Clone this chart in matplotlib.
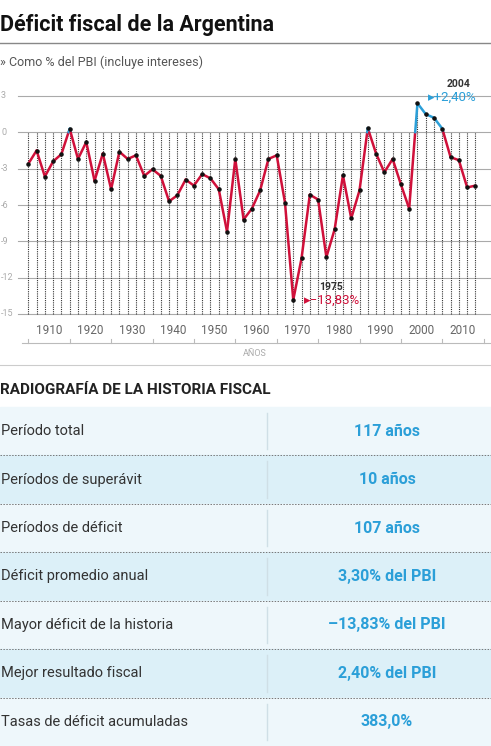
import matplotlib
matplotlib.use("Agg")
import matplotlib.pyplot as plt
import numpy as np

plt.rcParams['font.family'] = ['Roboto', 'DejaVu Sans']

years = list(range(1905, 2014, 2))
values = [-2.6, -1.5, -3.65, -2.4, -1.8, 0.3, -2.2, -0.8, -4.0, -1.75, -4.7, -1.6, -2.2, -1.9,
          -3.6, -3.05, -3.6, -5.7, -5.2, -3.9, -4.4, -3.45, -3.8, -4.7, -8.2, -2.2, -7.2,
          -6.3, -4.8, -2.2, -1.9, -5.8, -13.83, -10.4, -5.15, -5.55, -10.3, -8.0, -3.55, -7.1,
          -4.8, 0.35, -1.75, -3.3, -2.2, -4.3, -6.3, 2.4, 1.5, 1.2, 0.3, -2.05, -2.3, -4.55, -4.4]
ytick_vals = [3, 0, -3, -6, -9, -12, -15]
xtick_labels = [1910, 1920, 1930, 1940, 1950, 1960, 1970, 1980, 1990, 2000, 2010]
rows = ["Período total", "Períodos de superávit", "Períodos de déficit", "Déficit promedio anual",
        "Mayor déficit de la historia", "Mejor resultado fiscal", "Tasas de déficit acumuladas"]
row_values = ["117 años", "10 años", "107 años", "3,30% del PBI", "–13,83% del PBI",
              "2,40% del PBI", "383,0%"]

W, H = 491, 746
RED = '#d0103a'
BLUE = '#2b9fd8'
fig = plt.figure(figsize=(W/100, H/100), dpi=100)

bg = fig.add_axes([0, 0, 1, 1])
bg.set_xlim(0, W); bg.set_ylim(H, 0); bg.axis('off')

bg.text(0, 25, "Déficit fiscal de la Argentina", fontsize=15.5, fontweight='bold', va='center', ha='left', color='#111')
bg.plot([0, W], [43, 43], color='#888', lw=1)
bg.text(0, 62, "» Como % del PBI (incluye intereses)", fontsize=9, va='center', color='#555')
bg.plot([0, W], [365, 365], color='#ccc', lw=0.8)
bg.text(255, 354, "AÑOS", fontsize=6.5, color='#aaa', ha='center', va='center')
bg.text(0, 390, "RADIOGRAFÍA DE LA HISTORIA FISCAL", fontsize=11, fontweight='bold', va='center', color='#222')

top = 407
rh = (H - top) / 7
for i, (lab, val) in enumerate(zip(rows, row_values)):
    y0 = top + i * rh
    col = '#eef7fb' if i % 2 == 0 else '#dcf0f8'
    bg.add_patch(plt.Rectangle((0, y0), W, rh, color=col, zorder=0))
    if i > 0:
        bg.plot([0, W], [y0, y0], color='#777', lw=0.7, ls=(0, (1.5, 1.5)))
    bg.plot([267, 267], [y0 + 6, y0 + rh - 6], color='#cfdfe6', lw=1)
    bg.text(1, y0 + rh/2, lab, fontsize=10.5, va='center', color='#333')
    bg.text(387, y0 + rh/2, val, fontsize=11.5, fontweight='bold', va='center', ha='center', color=BLUE)

px_top, px_bot = 96, 343
x0px, x1px = 22, 491
ax = fig.add_axes([x0px/W, 1 - px_bot/H, (x1px - x0px)/W, (px_bot - px_top)/H])
ppy = 4.14
ax.set_xlim(1910 - (49 - x0px)/ppy, 1910 + (x1px - 49)/ppy)
yb = -15 - (px_bot - 314) / (218/18)
ax.set_ylim(yb, 3)
ax.patch.set_alpha(0)
for s in ['top', 'left', 'right']:
    ax.spines[s].set_visible(False)
ax.spines['bottom'].set_color('#bbb')
ax.set_xticks([])
ax.set_yticks([])
xl = ax.get_xlim()
for t in ytick_vals:
    ax.plot([xl[0] - 1, xl[1]], [t, t], color='#aaa', lw=0.8, zorder=1, clip_on=False)
    bg.text(1, 96 + (3 - t) * 218 / 18, str(t), fontsize=6.5, color='#aaa', ha='left', va='center')
for t in xtick_labels:
    ax.text(t, -16.4, str(t), fontsize=8.5, color='#666', ha='center', va='center')
for t in range(1905, 2016, 10):
    ax.plot([t, t], [yb, yb + 0.35], color='#bbb', lw=0.8, clip_on=False)

for x, v in zip(years, values):
    ax.plot([x, x], [-15, max(0, v)], color='#333', lw=0.8, ls=(0, (1, 1)), zorder=2)

xs = np.array(years, float); vs = np.array(values)
for i in range(len(xs) - 1):
    xa, xb, va, vb = xs[i], xs[i+1], vs[i], vs[i+1]
    if (va >= 0) == (vb >= 0):
        ax.plot([xa, xb], [va, vb], color=BLUE if va >= 0 else RED, lw=1.8, zorder=3, solid_capstyle='round')
    else:
        xc = xa + (xb - xa) * (0 - va) / (vb - va)
        ax.plot([xa, xc], [va, 0], color=BLUE if va >= 0 else RED, lw=1.8, zorder=3, solid_capstyle='round')
        ax.plot([xc, xb], [0, vb], color=BLUE if vb >= 0 else RED, lw=1.8, zorder=3, solid_capstyle='round')
ax.scatter(xs, vs, s=5, color='#111', zorder=4)

imin = int(np.argmin(vs)); imax = int(np.argmax(vs))
ax.text(xs[imin] + 2.5, vs[imin], "▸−13,83%", fontsize=9.5, color=RED, va='center', ha='left')
ax.text(xs[imin] + 9, vs[imin] + 1.1, "1975", fontsize=7.5, fontweight='bold', color='#333', ha='center', va='center')
ax.text(xs[imax] + 2.5, vs[imax] + 0.5, "▸+2,40%", fontsize=9.5, color=BLUE, va='center', ha='left')
ax.text(xs[imax] + 10, vs[imax] + 1.6, "2004", fontsize=7.5, fontweight='bold', color='#333', ha='center', va='center', clip_on=False)

fig.savefig("out.png", dpi=100)
